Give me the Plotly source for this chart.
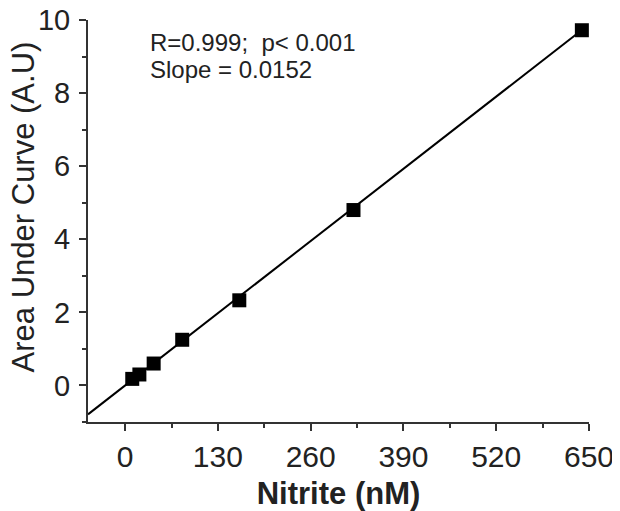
import plotly.graph_objects as go

nitrite_nM = [10, 20, 40, 80, 160, 320, 640]
auc = [0.18, 0.30, 0.60, 1.25, 2.33, 4.80, 9.72]
fit_slope = 0.0152
fit_intercept = 0.0
x_tick_vals = [0, 130, 260, 390, 520, 650]
y_tick_vals = [0, 2, 4, 6, 8, 10]
x_range = [-52, 650]
y_range = [-1, 10]

fit_x = [x_range[0], max(nitrite_nM)]
fit_y = [fit_slope * v + fit_intercept for v in fit_x]

fig = go.Figure()
fig.add_trace(go.Scatter(x=fit_x, y=fit_y, mode="lines",
                         line=dict(color="black", width=2), showlegend=False, cliponaxis=False))
fig.add_trace(go.Scatter(x=nitrite_nM, y=auc, mode="markers",
                         marker=dict(symbol="square", size=14, color="black"),
                         showlegend=False, cliponaxis=False))

font_family = "Liberation Sans, Arial, sans-serif"
# page body has an 8px default margin, so the figure is sized/offset to compensate
fig.update_layout(
    width=612, height=503,
    margin=dict(l=80, r=31, t=12, b=89),
    plot_bgcolor="white", paper_bgcolor="white",
    font=dict(family=font_family, color="#222"),
    annotations=[
        dict(text="R=0.999;  p< 0.001", x=0.12, y=0.945, xref="paper", yref="paper",
             xanchor="left", yanchor="middle", showarrow=False, font=dict(size=24, color="#222")),
        dict(text="Slope = 0.0152", x=0.12, y=0.876, xref="paper", yref="paper",
             xanchor="left", yanchor="middle", showarrow=False, font=dict(size=24, color="#222")),
        dict(text="Area Under Curve (A.U)", x=-0.128, y=0.536, xref="paper", yref="paper",
             xanchor="center", yanchor="middle", textangle=-90, showarrow=False,
             font=dict(size=31, color="#222")),
    ],
)
fig.update_xaxes(
    range=x_range, tickvals=x_tick_vals, ticks="outside", ticklen=7, tickwidth=2,
    tickcolor="#333", showline=True, linecolor="#333", linewidth=2, showgrid=False,
    zeroline=False, tickfont=dict(size=30), automargin=False, ticklabeloverflow="allow",
    minor=dict(tickvals=[65, 195, 325, 455, 585], ticks="outside", ticklen=4, tickwidth=2, tickcolor="#333"),
    title=dict(text="<b>Nitrite (nM)</b>", font=dict(size=31), standoff=10),
)
fig.update_yaxes(
    range=y_range, tickvals=y_tick_vals, ticks="outside", ticklen=7, tickwidth=2,
    tickcolor="#333", showline=True, linecolor="#333", linewidth=2, showgrid=False,
    zeroline=False, tickfont=dict(size=29), automargin=False, ticklabelstandoff=3,
    ticklabeloverflow="allow",
    minor=dict(tickvals=[-1, 1, 3, 5, 7, 9], ticks="outside", ticklen=4, tickwidth=2, tickcolor="#333"),
)
fig.write_html("out.html")
